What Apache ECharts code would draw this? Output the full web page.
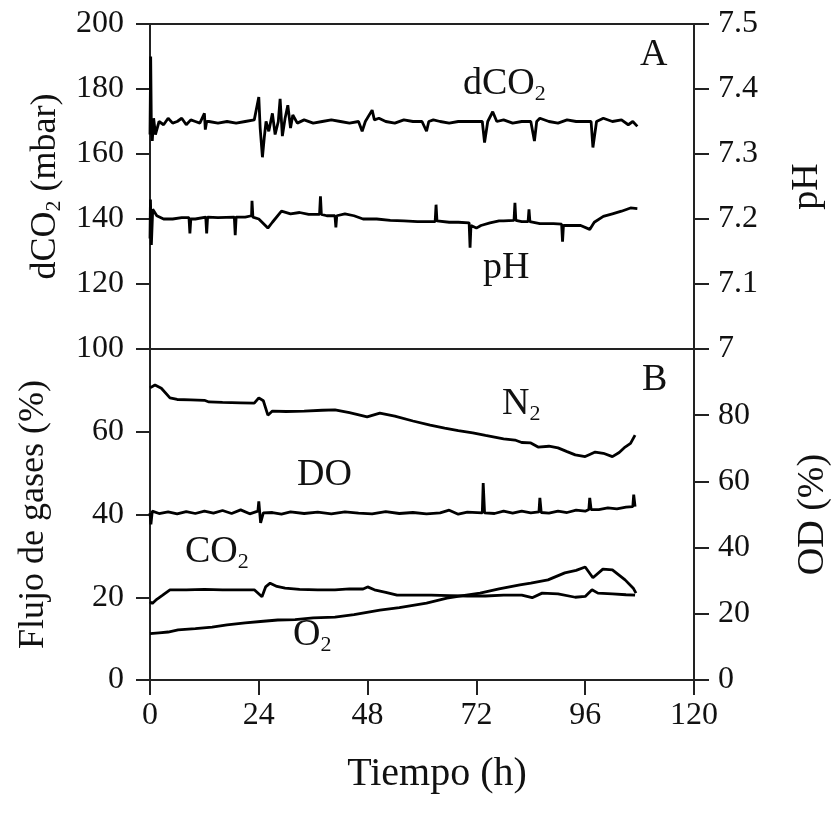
<!DOCTYPE html>
<html>
<head>
<meta charset="utf-8">
<script src="https://cdn.jsdelivr.net/npm/echarts@6/dist/echarts.min.js"></script>
<style>
html,body{margin:0;padding:0;background:#fff;}
#chart{width:831px;height:813px;}
</style>
</head>
<body>
<div id="chart"></div>
<script>
// ---- Data (time in hours) ----
const xTickLabels = [0, 24, 48, 72, 96, 120];

const dco2Hours = [0,0.15,0.3,0.5,0.8,1.2,2,3,4,5,6,7,8,9,10,11,12,12.2,12.5,13,15,17,19,21,23,24,24.3,24.8,25.2,25.6,26.2,27,27.6,28.3,28.7,29.2,29.8,30.4,31,31.5,32.5,34,36,38,40,42,44,46,46.8,47.5,49,49.5,50.5,52,54,56,58,60,61,61.5,62.5,64,66,68,70,72,73.3,73.8,74.5,75.6,76.5,78,80,82,84,84.8,85.3,86,88,90,92,94,96,97.3,97.7,98.5,100,102,104,105.5,106.5,107.5];
const dco2Values = [166,190,168,164,171,166,170,169,171,169.5,170,171,169,170.5,170,169.5,172.5,167.5,170,170,169.5,170,169.5,170,170.5,177.5,168,159,165,170,167,172.5,166,170,177,165.5,171,175,168,172,169.5,170.5,169.5,170,170.5,170,169.5,170,167,170,173.5,170.5,171,170,169.5,170.5,170,170,167,170,170.5,170,169.5,170,170,170,170,163.5,170,173,170,170.5,169.5,170,170,164,170,171,170,169.5,170.5,170,170,170,162,170,171,170,170.5,169,170,168.5];

const phHours = [0,0.1,0.3,0.6,1.5,3,5,7,8.6,8.8,9,10,12.3,12.5,12.7,15,18.6,18.8,19,21,22.4,22.5,22.7,24,26,27,29,31,33,35,37.4,37.6,37.8,39,40.8,41,41.2,43,45,47,50,53,56,59,62.9,63.1,63.3,66,68,70.4,70.6,70.8,72,73,75,77,78,80.3,80.5,80.7,82,83.4,83.6,83.8,86,89,90.8,91,91.2,93,95,97,98,100,102,104,106,107.5];
const phValues = [7.17,7.23,7.16,7.215,7.205,7.2,7.2,7.202,7.202,7.178,7.2,7.2,7.203,7.178,7.203,7.202,7.203,7.175,7.203,7.203,7.205,7.228,7.203,7.2,7.186,7.195,7.212,7.208,7.21,7.207,7.207,7.235,7.207,7.205,7.205,7.187,7.205,7.208,7.205,7.2,7.2,7.198,7.197,7.196,7.196,7.222,7.197,7.195,7.195,7.194,7.156,7.19,7.186,7.19,7.194,7.197,7.197,7.198,7.225,7.198,7.196,7.196,7.215,7.196,7.193,7.193,7.192,7.165,7.19,7.19,7.19,7.184,7.195,7.204,7.208,7.212,7.217,7.216];

const n2Hours = [0,1.1,2.5,4.4,6,9,12,13,16,20,23,24,25,26,27,30,34,38,40.8,44,47.9,50.7,54,58,61.8,65,68,71.2,74,78,80.5,82,84,85.6,88,90,92,93.8,96,97,98.2,100,102,103.5,104.8,106,107];
const n2Values = [70.6,71.3,70.5,68.2,67.8,67.7,67.6,67.2,67.1,67.0,66.9,68.2,67.5,64.0,65.0,64.9,65.0,65.2,65.3,64.6,63.6,64.5,63.8,62.6,61.6,60.9,60.3,59.7,59.1,58.3,58.0,57.4,57.3,56.3,56.5,56.1,55.2,54.4,54.0,54.5,55.1,54.8,54.0,55.0,56.3,57.2,59.2];

const doHours = [0,0.2,0.5,2,4,6,8,10,12,14,16,18,20,22,23.8,24,24.4,25,27,29,31,34,37,40,43,46,49,52,55,58,61,64,66,68,70,73.3,73.5,73.8,76,78,80,82,84,85.8,86,86.3,88,90,92,94,96,96.8,97,97.3,99,101,103,105,106.5,106.7,107];
const doValues = [50.5,47,51,50.3,50.8,50.2,50.9,50.3,51,50.4,51.2,50.3,51.4,50.2,51,54,47.5,50.5,50.6,50.1,50.8,50.3,50.7,50.2,50.8,50.4,50.2,50.9,50.3,50.6,50.2,50.5,51.3,50.1,50.7,50.5,59.5,50.5,50.3,51,50.4,51,50.5,50.8,55,50.6,50.4,51,50.6,51.3,51,51.5,55,51.5,51.5,52,51.7,52.2,52.4,56,52.4];

const co2Hours = [0,0.5,1.5,2.8,4.4,8,12,16,20,23,24.7,25.5,26.5,28,29.8,33,37,40.8,44,47,48,49.5,52,54.5,58,62,66,70,74,78,82,84.3,86.5,90,93.8,96,97.5,98.8,102,105,107];
const co2Values = [18.9,18.5,19.5,20.5,21.8,21.8,21.9,21.8,21.8,21.8,20.1,22.5,23.4,22.6,22.2,21.9,21.8,21.8,22.0,22.0,22.5,21.8,21.2,20.5,20.5,20.5,20.4,20.3,20.3,20.5,20.5,19.9,21.0,20.8,20.0,20.2,21.8,21.0,20.8,20.6,20.5];

const o2Hours = [0,2,4,6.2,10,13.7,17,21,25,28.2,32,36,40.8,45,50.7,55,61,65.5,69,72.8,77,81.6,84,87.8,91.5,94,96,97.7,99.9,102,104.8,106.6,107.2];
const o2Values = [11.2,11.4,11.6,12.1,12.4,12.8,13.3,13.8,14.2,14.5,14.6,15.0,15.2,15.8,16.9,17.5,18.6,19.8,20.4,21.0,22.0,23.0,23.4,24.2,25.9,26.5,27.3,24.7,26.8,26.6,24.2,22.2,21.0];

function pairs(h, v) { return h.map((t, i) => [t, v[i]]); }

const FONT = 'Liberation Serif';
const INK = '#111';
const AX = '#222';

const chart = echarts.init(document.getElementById('chart'), null, {renderer: 'canvas'});

const tickLabel = {color: INK, fontFamily: FONT, fontSize: 32};
const sub = {fontFamily: FONT, fontSize: 22, color: INK, padding: [20, 0, 0, 0]};
const big = {fontFamily: FONT, fontSize: 38, color: INK};

function hiddenX(gridIndex, position) {
  return {
    type: 'value', gridIndex, position, min: 0, max: 120, interval: 24,
    axisLine: {show: true, onZero: false, lineStyle: {color: AX, width: 2}},
    axisTick: {show: false}, axisLabel: {show: false}, splitLine: {show: false}
  };
}

function lineSeries(name, data, xi, yi) {
  return {
    name, type: 'line', data, xAxisIndex: xi, yAxisIndex: yi,
    showSymbol: false, symbol: 'none', smooth: false,
    lineStyle: {color: '#000', width: 2.8}, animation: false
  };
}

function label(text, x, y) {
  return {
    type: 'text', x, y, z: 100,
    style: {
      text, textAlign: 'left', textVerticalAlign: 'middle',
      fontFamily: FONT, fontSize: 38, fill: INK,
      rich: {b: big, s: sub}
    }
  };
}

const option = {
  animation: false,
  backgroundColor: '#fff',
  grid: [
    {left: 150, right: 137, top: 24, height: 325, containLabel: false, outerBoundsMode: 'none'},
    {left: 150, right: 137, top: 349, height: 331, containLabel: false, outerBoundsMode: 'none'}
  ],
  xAxis: [
    hiddenX(0, 'bottom'),
    hiddenX(0, 'top'),
    {
      type: 'value', gridIndex: 1, position: 'bottom', min: 0, max: 120, interval: 24,
      axisLine: {show: true, onZero: false, lineStyle: {color: AX, width: 2}},
      axisTick: {show: true, length: 15, lineStyle: {color: AX, width: 2}},
      axisLabel: Object.assign({margin: 20, formatter: v => xTickLabels.includes(v) ? String(v) : ''}, tickLabel),
      splitLine: {show: false},
      name: 'Tiempo (h)', nameLocation: 'middle', nameGap: 74,
      nameTextStyle: {fontFamily: FONT, fontSize: 40, color: INK, padding: [0, 0, 0, 30]}
    }
  ],
  yAxis: [
    {
      type: 'value', gridIndex: 0, position: 'left', min: 100, max: 200, interval: 20,
      axisLine: {show: true, onZero: false, lineStyle: {color: AX, width: 2}},
      axisTick: {show: true, length: 14, lineStyle: {color: AX, width: 2}},
      axisLabel: Object.assign({margin: 26}, tickLabel),
      splitLine: {show: false},
      name: '{b|dCO}{s|2}{b| (mbar)}', nameLocation: 'middle', nameRotate: 90, nameGap: 84,
      nameTextStyle: {fontFamily: FONT, fontSize: 36, color: INK,
        rich: {b: {fontFamily: FONT, fontSize: 36, color: INK}, s: {fontFamily: FONT, fontSize: 22, color: INK, padding: [18, 0, 0, 0]}}}
    },
    {
      type: 'value', gridIndex: 0, position: 'right', min: 7.0, max: 7.5, interval: 0.1,
      axisLine: {show: true, onZero: false, lineStyle: {color: AX, width: 2}},
      axisTick: {show: true, length: 15, lineStyle: {color: AX, width: 2}},
      axisLabel: Object.assign({margin: 24, formatter: v => (Math.abs(v - 7) < 1e-6 ? '7' : v.toFixed(1))}, tickLabel),
      splitLine: {show: false},
      name: 'pH', nameLocation: 'middle', nameRotate: 90, nameGap: 94,
      nameTextStyle: {fontFamily: FONT, fontSize: 38, color: INK}
    },
    {
      type: 'value', gridIndex: 1, position: 'left', min: 0, max: 80, interval: 20,
      axisLine: {show: true, onZero: false, lineStyle: {color: AX, width: 2}},
      axisTick: {show: true, length: 14, lineStyle: {color: AX, width: 2}},
      axisLabel: Object.assign({margin: 26, formatter: v => (v === 80 ? '' : String(v))}, tickLabel),
      splitLine: {show: false},
      name: 'Flujo de gases (%)', nameLocation: 'middle', nameRotate: 90, nameGap: 98,
      nameTextStyle: {fontFamily: FONT, fontSize: 36, color: INK}
    },
    {
      type: 'value', gridIndex: 1, position: 'right', min: 0, max: 100, interval: 20,
      axisLine: {show: true, onZero: false, lineStyle: {color: AX, width: 2}},
      axisTick: {show: true, length: 15, lineStyle: {color: AX, width: 2}},
      axisLabel: Object.assign({margin: 24, formatter: v => (v === 100 ? '' : String(v))}, tickLabel),
      splitLine: {show: false},
      name: 'OD (%)', nameLocation: 'middle', nameRotate: 90, nameGap: 100,
      nameTextStyle: {fontFamily: FONT, fontSize: 38, color: INK}
    }
  ],
  series: [
    lineSeries('dCO2', pairs(dco2Hours, dco2Values), 0, 0),
    lineSeries('pH', pairs(phHours, phValues), 0, 1),
    lineSeries('N2', pairs(n2Hours, n2Values), 2, 2),
    lineSeries('DO', pairs(doHours, doValues), 2, 3),
    lineSeries('CO2', pairs(co2Hours, co2Values), 2, 2),
    lineSeries('O2', pairs(o2Hours, o2Values), 2, 2)
  ],
  graphic: [
    label('{b|dCO}{s|2}', 463, 84),
    label('{b|A}', 640, 55),
    label('{b|pH}', 483, 268),
    label('{b|N}{s|2}', 502, 404),
    label('{b|DO}', 297, 475),
    label('{b|CO}{s|2}', 185, 552),
    label('{b|O}{s|2}', 293, 635),
    label('{b|B}', 642, 380)
  ]
};

chart.setOption(option);
</script>
</body>
</html>
